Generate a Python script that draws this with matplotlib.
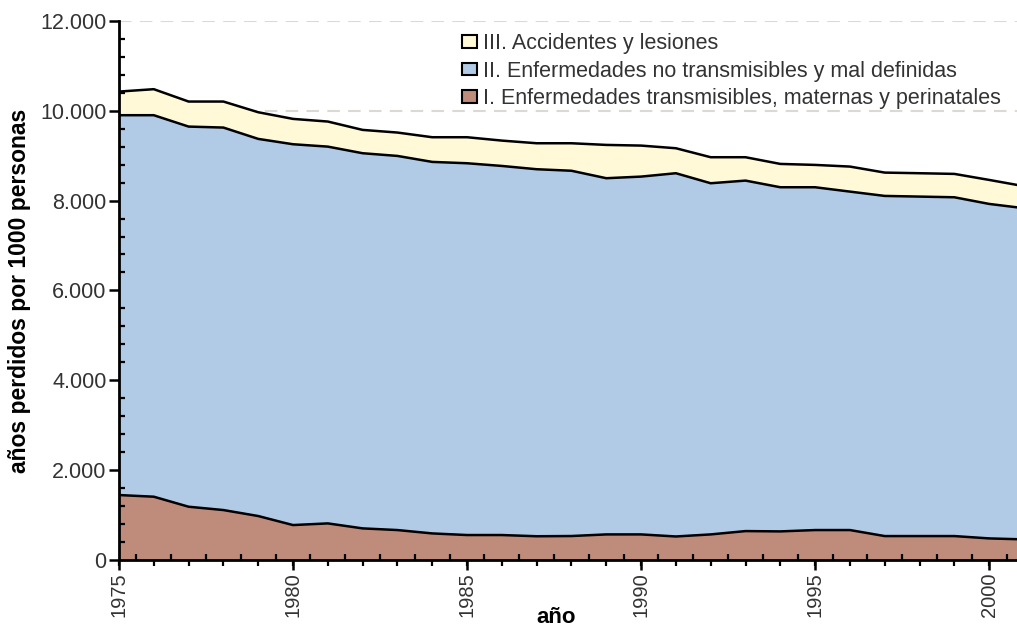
import numpy as np
import matplotlib.pyplot as plt
from matplotlib.ticker import MultipleLocator, FuncFormatter

plt.rcParams['font.family'] = ['Liberation Sans', 'DejaVu Sans']

years = np.arange(1975, 2002)

# cumulative heights (años perdidos por 1000 personas)
grupo1 = [1447, 1410, 1187, 1113, 980, 779, 816, 705, 668, 593, 557, 557, 530, 535,
          571, 571, 525, 571, 645, 638, 668, 668, 534, 534, 534, 482, 460]
hasta2 = [9899, 9899, 9646, 9624, 9372, 9253, 9200, 9053, 8993, 8860, 8830, 8770, 8697, 8663,
          8497, 8533, 8608, 8385, 8444, 8296, 8296, 8199, 8103, 8088, 8073, 7925, 7830]
total = [10425, 10478, 10203, 10203, 9965, 9817, 9758, 9572, 9513, 9409, 9409, 9334, 9275, 9275,
         9238, 9223, 9164, 8964, 8964, 8815, 8793, 8756, 8622, 8608, 8593, 8459, 8320]

labels = ['I. Enfermedades transmisibles, maternas y perinatales',
          'II. Enfermedades no transmisibles y mal definidas',
          'III. Accidentes y lesiones']
colors = ['#bf8c7c', '#b1cbe6', '#fff9d8']

g1 = np.array(grupo1)
g2 = np.array(hasta2) - g1
g3 = np.array(total) - np.array(hasta2)

fig = plt.figure(figsize=(10.17, 6.30), dpi=100)
ax = fig.add_axes([0.117, 0.111, 0.883, 0.856])

polys = ax.stackplot(years, g1, g2, g3, colors=colors, labels=labels, zorder=2)
cum = np.cumsum([g1, g2, g3], axis=0)
for c in cum:
    ax.plot(years, c, color='black', lw=1.8, zorder=2.2)

ax.set_xlim(1975, 2000.8)
ax.set_ylim(0, 12000)

ax.yaxis.set_major_locator(MultipleLocator(2000))
ax.yaxis.set_minor_locator(MultipleLocator(400))
ax.xaxis.set_major_locator(MultipleLocator(5))
ax.set_xticks(years[:-1] + 0.5, minor=True)
ax.yaxis.set_major_formatter(FuncFormatter(lambda v, p: f'{int(v):,}'.replace(',', '.')))

# dashed grid behind the areas, ticks stay on top
ax.set_axisbelow(False)
for yv in ax.get_yticks()[1:]:
    ax.axhline(yv, color='#dcd8d4', ls=(0, (6, 4)), lw=1.5, zorder=1)

for s in ['top', 'right']:
    ax.spines[s].set_visible(False)
for s in ['left', 'bottom']:
    ax.spines[s].set_linewidth(2)
    ax.spines[s].set_zorder(4)

ax.tick_params(which='major', direction='out', length=7, width=1.8,
               labelcolor='#333333')
ax.tick_params(axis='y', which='major', labelsize=15.5, pad=2)
ax.tick_params(axis='x', which='major', labelsize=14.5, pad=2)
ax.tick_params(which='minor', direction='in', length=4, width=1.6)
plt.setp(ax.get_xticklabels(), rotation=90)

# yearly ticks pointing out of the axis
sec = ax.secondary_xaxis(0)
sec.set_xticks(years)
sec.tick_params(direction='out', length=4, width=1.6, labelbottom=False)
sec.spines['bottom'].set_visible(False)

ax.set_xlabel('año', fontsize=16, fontweight='bold')
ax.xaxis.set_label_coords(0.487, -0.107)
ax.xaxis.label.set_va('center')
ax.set_ylabel('años perdidos por 1000 personas', fontsize=16.5, fontweight='bold')
ax.yaxis.set_label_coords(-0.111, 0.5)
ax.yaxis.label.set_va('center')

h, l = ax.get_legend_handles_labels()
for p in polys:
    p.set_linewidth(0)
leg = ax.legend(h[::-1], l[::-1], loc='upper left', bbox_to_anchor=(0.365, 1.005), frameon=False,
                fontsize=15.5, handlelength=0.7, handleheight=0.5, handletextpad=0.3,
                labelspacing=0.3, labelcolor='#333333', borderaxespad=0.3)
for hnd in leg.legend_handles:
    hnd.set_edgecolor('black')
    hnd.set_linewidth(1.5)

fig.savefig('out.png', dpi=100)
